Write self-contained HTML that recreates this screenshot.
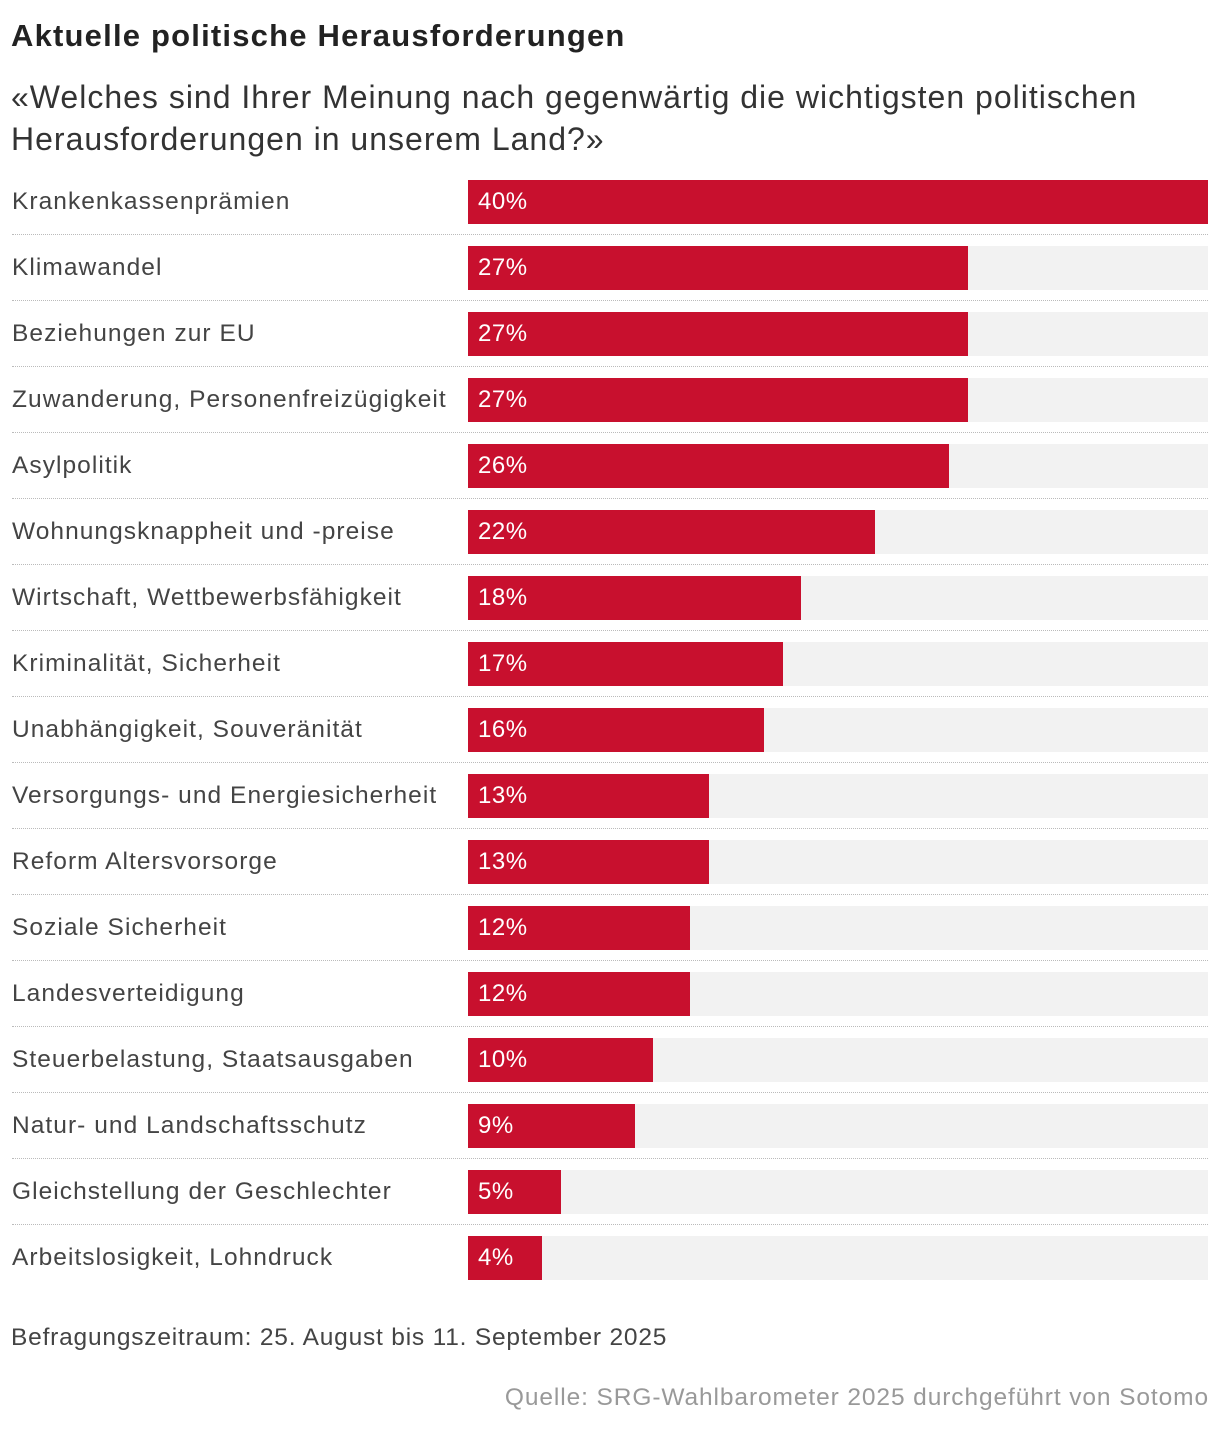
<!DOCTYPE html>
<html><head><meta charset="utf-8">
<style>
body{margin:0;width:1220px;height:1432px;background:#fff;font-family:"Liberation Sans",sans-serif;color:#333;position:relative;overflow:hidden}
#title{position:absolute;left:11px;top:18px;font-size:31px;font-weight:bold;color:#222;letter-spacing:1.2px}
#sub{position:absolute;left:11px;top:76px;font-size:32px;line-height:42px;color:#333;width:1210px;letter-spacing:1.0px}
.lbl{position:absolute;left:12px;font-size:24.5px;color:#444;white-space:nowrap;letter-spacing:1.05px}
.track{position:absolute;left:468px;width:740px;height:44px;background:#f2f2f2}
.bar{position:absolute;left:468px;height:44px;background:#c8102e}
.val{position:absolute;left:478px;font-size:24px;color:#fff;letter-spacing:0.5px}
.sep{position:absolute;left:12px;width:1196px;border-top:1px dotted #bbb}
#period{position:absolute;left:11px;top:1324px;font-size:24.5px;color:#444;letter-spacing:0.8px}
#src{position:absolute;right:11px;top:1384px;font-size:24.5px;color:#999;letter-spacing:0.9px}
</style></head><body>
<div id="title">Aktuelle politische Herausforderungen</div>
<div id="sub">«Welches sind Ihrer Meinung nach gegenwärtig die wichtigsten politischen<br>Herausforderungen in unserem Land?»</div>
<div id="chart"></div>
<div id="period">Befragungszeitraum: 25. August bis 11. September 2025</div>
<div id="src">Quelle: SRG-Wahlbarometer 2025 durchgeführt von Sotomo</div>
<script>
const categories=["Krankenkassenprämien","Klimawandel","Beziehungen zur EU","Zuwanderung, Personenfreizügigkeit","Asylpolitik","Wohnungsknappheit und -preise","Wirtschaft, Wettbewerbsfähigkeit","Kriminalität, Sicherheit","Unabhängigkeit, Souveränität","Versorgungs- und Energiesicherheit","Reform Altersvorsorge","Soziale Sicherheit","Landesverteidigung","Steuerbelastung, Staatsausgaben","Natur- und Landschaftsschutz","Gleichstellung der Geschlechter","Arbeitslosigkeit, Lohndruck"];
const values=[40,27,27,27,26,22,18,17,16,13,13,12,12,10,9,5,4];
const maxValue=40;
const chart=document.getElementById('chart');
const x=v=>v/maxValue*740;
const y=i=>180+i*66;
categories.forEach((c,i)=>{
  const t=y(i);
  const lbl=document.createElement('div');lbl.className='lbl';lbl.style.top=(t+8)+'px';lbl.textContent=c;
  
  
  chart.appendChild(lbl);
  const tr=document.createElement('div');tr.className='track';tr.style.top=t+'px';
  
  
  chart.appendChild(tr);
  const b=document.createElement('div');b.className='bar';b.style.top=t+'px';b.style.width=x(values[i])+'px';
  
  
  chart.appendChild(b);
  const v=document.createElement('div');v.className='val';v.style.top=(t+8)+'px';v.textContent=values[i]+'%';
  
  
  chart.appendChild(v);
  if(i<categories.length-1){
    const s=document.createElement('div');s.className='sep';s.style.top=(t+54)+'px';
    
    
    chart.appendChild(s);
  }
});
</script>
</body></html>
